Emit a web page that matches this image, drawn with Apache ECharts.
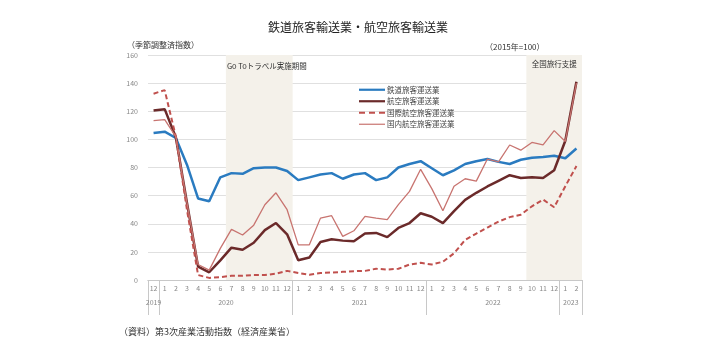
<!DOCTYPE html>
<html><head><meta charset="utf-8">
<script src="https://cdn.jsdelivr.net/npm/echarts@6/dist/echarts.min.js"></script>
<style>html,body{margin:0;padding:0;background:#fff}#c{width:712px;height:346px}</style>
</head><body><div id="c"></div>
<script>
const months = ['12','1','2','3','4','5','6','7','8','9','10','11','12','1','2','3','4','5','6','7','8','9','10','11','12','1','2','3','4','5','6','7','8','9','10','11','12','1','2'];
const yearLabels = ['2019','2020','2021','2022','2023'];
const yearStartIdx = [0, 1, 13, 25, 37]; // first month index of each year block
const rail = [104.5,105.5,101,82,58,56,73,76,75.5,79.5,80,80,77.5,71,73,75,76,72,75,76,71,73,80,82.5,84.5,79.5,74.5,78,82.5,84.5,86,84,82.5,85.5,87,87.5,88.3,86.6,93.5];
const air = [120.5,121.5,101.5,55,9.5,5.5,14,23,21.5,26.5,35.5,40.5,32.5,14,16,27,29,28,27.5,33,33.5,30.5,37,40.5,47.5,45,40.5,49,57,62,66.5,70.5,74.5,72.5,73,72.5,78,99,141];
const intl = [132.5,135,102,50,3.5,1.5,2,3,3,3.5,3.5,4.5,6.5,5,3.8,5,5.3,5.8,6.3,6.5,8,7.4,8,11,12.2,11,13,19,28.5,33,37.3,41.5,44.7,46.4,52.4,57.2,51.7,66.7,81];
const domestic = [113.4,114,102,55,11,7,22.5,36,32,39,53.5,62,50,25,25,44,45.7,31,35,45.2,44,43,53.6,63,78.7,65,49.3,66.7,72,70.3,86,84,96,92.3,97.8,96.1,106.2,98.5,140];
const seriesNames = ['鉄道旅客運送業','航空旅客運送業','国際航空旅客運送業','国内航空旅客運送業'];
const periodNames = ['Go Toトラベル実施期間', '全国旅行支援'];
const goToRange = [7, 12];      // 2020/7 - 2020/12 (month indices)
const shienRange = [34, 38];    // 2022/10 - 2023/2

// half-month slots for year labels / separators (boundaryGap false, 79 slots)
const slots = new Array(months.length * 2 + 1).fill('');
const sepSlots = new Set();
yearStartIdx.forEach((s, i) => {
  const e = i + 1 < yearStartIdx.length ? yearStartIdx[i + 1] : months.length;
  slots[s + e] = yearLabels[i];
  sepSlots.add(2 * s); sepSlots.add(2 * e);
});
// month index range -> slot edges
const edge = (r) => [2 * r[0], 2 * (r[1] + 1)];

const font = '"Noto Sans CJK JP", sans-serif';
const solidIcon = 'path://M0,5L26,5L26,7.2L0,7.2Z';
const dashIcon = 'path://M0,5L6,5L6,7.2L0,7.2Z M10,5L16,5L16,7.2L10,7.2Z M20,5L26,5L26,7.2L20,7.2Z';
const thinIcon = 'path://M0,5.5L26,5.5L26,6.7L0,6.7Z';
const chart = echarts.init(document.getElementById('c'), null, {renderer: 'canvas'});
const g = edge(goToRange), s = edge(shienRange);
chart.setOption({
  animation: false,
  textStyle: {fontFamily: font},
  title: [
    {text: '鉄道旅客輸送業・航空旅客輸送業', left: 353, top: 16, textAlign: 'center',
     textStyle: {fontSize: 12, fontWeight: 'normal', color: '#222', fontFamily: font}},
    {text: '（季節調整済指数）', left: 122, top: 36, textStyle: {fontSize: 8, fontWeight: 'normal', color: '#333', fontFamily: font}},
    {text: '（2015年=100）', left: 480, top: 38, textStyle: {fontSize: 8, fontWeight: 'normal', color: '#333', fontFamily: font}},
    {text: '（資料）第3次産業活動指数（経済産業省）', left: 114, top: 322, textStyle: {fontSize: 9, fontWeight: 'normal', color: '#333', fontFamily: font}}
  ],
  legend: {
    left: 354, top: 81, orient: 'vertical', itemGap: 4, itemWidth: 26, itemHeight: 12,
    textStyle: {fontSize: 7.5, color: '#444', fontFamily: font, padding: [0,0,0,-3]},
    data: [
      {name: seriesNames[0], icon: solidIcon},
      {name: seriesNames[1], icon: solidIcon},
      {name: seriesNames[2], icon: dashIcon},
      {name: seriesNames[3], icon: thinIcon}
    ],
    selectedMode: false
  },
  grid: {left: 148, right: 130, top: 55, bottom: 66},
  xAxis: [
    {type: 'category', data: months, position: 'bottom',
     axisLine: {lineStyle: {color: '#c8c8c8'}}, axisTick: {show: false},
     axisLabel: {interval: 0, fontSize: 7, color: '#888', margin: 5, fontFamily: font}},
    {type: 'category', data: slots, boundaryGap: false, position: 'bottom',
     axisLine: {show: true, lineStyle: {color: '#c8c8c8'}},
     axisTick: {show: true, length: 35, interval: (i) => sepSlots.has(i), lineStyle: {color: '#c8c8c8'}},
     axisLabel: {interval: 0, fontSize: 7, color: '#888', margin: 19, fontFamily: font}}
  ],
  yAxis: {type: 'value', min: 0, max: 160, interval: 20,
    axisLine: {show: false}, axisTick: {show: false},
    axisLabel: {fontSize: 7, color: '#888', margin: 10, fontFamily: font},
    splitLine: {lineStyle: {color: '#e0e0e0'}}},
  series: [
    {name: 'periods', type: 'line', xAxisIndex: 1, data: [], silent: true, z: 1,
     markArea: {silent: true, itemStyle: {color: '#f4f1ea'},
       label: {fontSize: 7.5, color: '#333', fontFamily: font, overflow: 'none', textBorderWidth: 0},
       data: [
         [{xAxis: g[0], name: periodNames[0], label: {position: 'insideTopLeft', offset: [-4, 2], width: 120, overflow: 'none'}}, {xAxis: g[1]}],
         [{xAxis: s[0], name: periodNames[1], label: {position: 'insideTop', offset: [0, 0]}}, {xAxis: s[1]}]
       ]}},
    {name: seriesNames[0], type: 'line', data: rail, symbol: 'none',
     lineStyle: {color: '#2a7bc0', width: 2.5}, itemStyle: {color: '#2a7bc0'}, z: 3},
    {name: seriesNames[1], type: 'line', data: air, symbol: 'none',
     lineStyle: {color: '#6b2a2a', width: 2.5}, itemStyle: {color: '#6b2a2a'}, z: 3},
    {name: seriesNames[2], type: 'line', data: intl, symbol: 'none',
     lineStyle: {color: '#c0504d', width: 2, type: [5, 3]}, itemStyle: {color: '#c0504d'}, z: 3},
    {name: seriesNames[3], type: 'line', data: domestic, symbol: 'none',
     lineStyle: {color: '#c87470', width: 1.3}, itemStyle: {color: '#c87470'}, z: 4}
  ]
});
</script></body></html>
